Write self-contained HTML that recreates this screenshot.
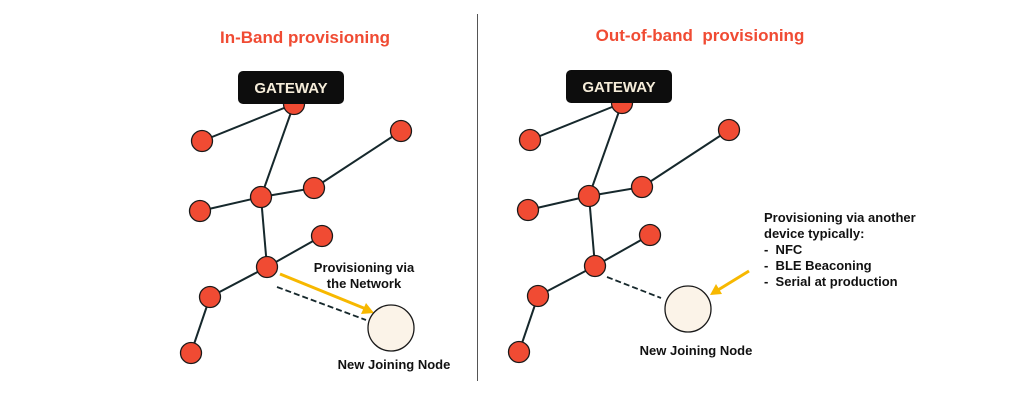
<!DOCTYPE html>
<html><head><style>
body{margin:0;background:#fff;}
svg{display:block;}
text{font-family:"Liberation Sans",sans-serif;}
</style></head><body>
<svg width="1024" height="412" viewBox="0 0 1024 412" xmlns="http://www.w3.org/2000/svg">
<defs>
<g id="net">
<g stroke="#16282c" stroke-width="2" fill="none">
<line x1="294" y1="104" x2="202" y2="141"/>
<line x1="294" y1="104" x2="261" y2="197"/>
<line x1="261" y1="197" x2="200" y2="211"/>
<line x1="261" y1="197" x2="314" y2="188"/>
<line x1="314" y1="188" x2="401" y2="131"/>
<line x1="261" y1="197" x2="267" y2="267"/>
<line x1="267" y1="267" x2="322" y2="236"/>
<line x1="267" y1="267" x2="210" y2="297"/>
<line x1="210" y1="297" x2="191" y2="353"/>
</g>
<g fill="#f04b33" stroke="#1a1a1a" stroke-width="1.3">
<circle cx="294" cy="104" r="10.5"/>
<circle cx="202" cy="141" r="10.5"/>
<circle cx="401" cy="131" r="10.5"/>
<circle cx="261" cy="197" r="10.5"/>
<circle cx="314" cy="188" r="10.5"/>
<circle cx="200" cy="211" r="10.5"/>
<circle cx="322" cy="236" r="10.5"/>
<circle cx="267" cy="267" r="10.5"/>
<circle cx="210" cy="297" r="10.5"/>
<circle cx="191" cy="353" r="10.5"/>
</g>
<rect x="238" y="71" width="106" height="33" rx="5" fill="#0d0d0d"/>
<text x="291" y="93" text-anchor="middle" font-size="15" font-weight="bold" fill="#f5ecd9">GATEWAY</text>
</g>
</defs>
<line x1="477.5" y1="14" x2="477.5" y2="381" stroke="#555" stroke-width="1"/>
<text x="305" y="43" text-anchor="middle" font-size="17" font-weight="bold" fill="#f04b33">In-Band provisioning</text>
<text x="700" y="41" text-anchor="middle" font-size="17" font-weight="bold" fill="#f04b33" style="white-space:pre">Out-of-band  provisioning</text>

<use href="#net"/>
<line x1="277" y1="287" x2="366" y2="320" stroke="#16282c" stroke-width="1.8" stroke-dasharray="6,3"/>
<line x1="280" y1="274" x2="366" y2="309" stroke="#f7b800" stroke-width="3"/>
<polygon points="374,313 361,314 366,303" fill="#f7b800"/>
<circle cx="391" cy="328" r="23" fill="#fbf3e8" stroke="#1a1a1a" stroke-width="1.3"/>
<text x="364" y="272" text-anchor="middle" font-size="13" font-weight="bold" fill="#111">Provisioning via</text>
<text x="364" y="288" text-anchor="middle" font-size="13" font-weight="bold" fill="#111">the Network</text>
<text x="394" y="369" text-anchor="middle" font-size="13" font-weight="bold" fill="#111">New Joining Node</text>

<use href="#net" transform="translate(328,-1)"/>
<line x1="607" y1="277" x2="661" y2="298" stroke="#16282c" stroke-width="1.8" stroke-dasharray="6,3"/>
<line x1="749" y1="271" x2="718" y2="290" stroke="#f7b800" stroke-width="3"/>
<polygon points="710,295 716,284 722,294" fill="#f7b800"/>
<circle cx="688" cy="309" r="23" fill="#fbf3e8" stroke="#1a1a1a" stroke-width="1.3"/>
<text x="696" y="355" text-anchor="middle" font-size="13" font-weight="bold" fill="#111">New Joining Node</text>
<g font-size="13" font-weight="bold" fill="#111">
<text x="764" y="222">Provisioning via another</text>
<text x="764" y="238">device typically:</text>
<text x="764" y="254">-&#160;&#160;NFC</text>
<text x="764" y="270">-&#160;&#160;BLE Beaconing</text>
<text x="764" y="286">-&#160;&#160;Serial at production</text>
</g>
</svg>
</body></html>
